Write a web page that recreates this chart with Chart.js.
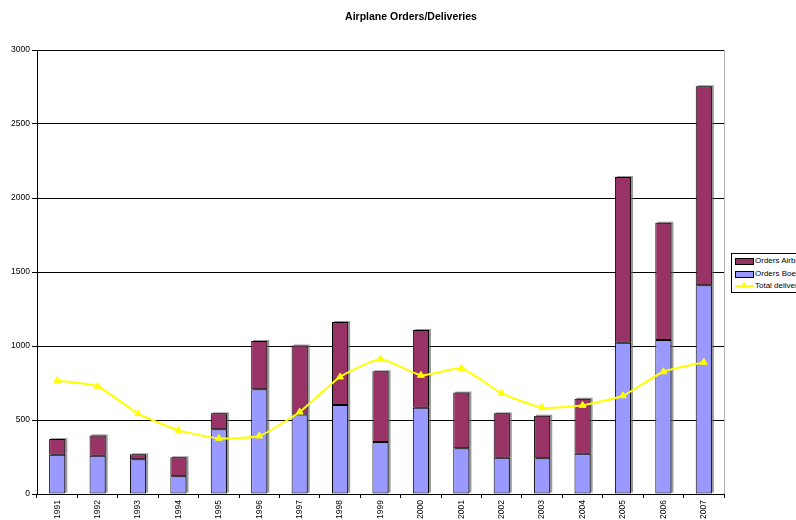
<!DOCTYPE html>
<html>
<head>
<meta charset="utf-8">
<script src="https://cdn.jsdelivr.net/npm/chart.js@4/dist/chart.umd.min.js"></script>
<style>
  html, body { margin: 0; padding: 0; background: #fff; overflow: hidden; width: 796px; height: 520px; }
  #wrap { position: relative; width: 796px; height: 520px; }
  #legend { position: absolute; left: 731px; top: 253px; width: 110px; height: 38px; border: 1px solid #000; background: #fff;
            font-family: "Liberation Sans", Arial, sans-serif; font-size: 8px; color: #000; }
  .row { position: absolute; left: 2px; height: 10px; white-space: nowrap; }
  .sw { position: absolute; left: 1px; top: 2px; width: 17px; height: 5px; border: 1px solid #000; }
  .ln { position: absolute; left: 1px; top: 4px; width: 19px; height: 2px; }
  .tri { position: absolute; left: 7px; top: 0px; width: 0; height: 0; border-left: 3.5px solid transparent; border-right: 3.5px solid transparent; border-bottom: 7px solid #FFFF00; }
  .tx { position: absolute; left: 21px; top: 0px; line-height: 10px; }
</style>
</head>
<body>
<div id="wrap">
  <canvas id="c" width="796" height="520"></canvas>
  <div id="legend"></div>
</div>
<script>
const years = ['1991','1992','1993','1994','1995','1996','1997','1998','1999','2000','2001','2002','2003','2004','2005','2006','2007'];
const ordersBoeing = [266, 259, 234, 120, 437, 707, 538, 601, 351, 583, 309, 245, 241, 272, 1022, 1041, 1410];
const ordersAirbus = [105, 137, 34, 128, 108, 327, 465, 561, 478, 525, 376, 300, 288, 372, 1120, 792, 1345];
const totalDeliveries = [766, 728, 543, 430, 376, 392, 554, 791, 912, 802, 849, 680, 583, 599, 664, 826, 890];
const yTicks = { min: 0, max: 3000, step: 500 };

const titleText = 'Airplane Orders/Deliveries';
const FONT = '"Liberation Sans", Arial, sans-serif';

const extras = {
  id: 'extras',
  beforeDatasetsDraw(chart) {
    // grey drop shadow behind the bars (Excel style), from the bar elements' own geometry
    const ctx = chart.ctx;
    ctx.save();
    ctx.fillStyle = 'rgba(110,110,110,0.7)';
    chart.data.datasets.forEach((ds, i) => {
      if (ds.type === 'line') return;
      chart.getDatasetMeta(i).data.forEach(el => {
        const p = el.getProps(['x', 'y', 'base', 'width'], true);
        const top = Math.min(p.y, p.base), h = Math.abs(p.base - p.y);
        ctx.fillRect(p.x - p.width / 2 + 2, top - 1, p.width, h);
      });
    });
    ctx.restore();
  },
  afterDraw(chart) {
    const ctx = chart.ctx;
    const a = chart.chartArea;
    ctx.save();
    ctx.strokeStyle = '#b0b0b0';
    ctx.lineWidth = 1;
    ctx.beginPath();
    ctx.moveTo(Math.round(a.right) + 0.5, a.top);
    ctx.lineTo(Math.round(a.right) + 0.5, a.bottom);
    ctx.stroke();
    ctx.fillStyle = '#000';
    ctx.font = 'bold 10.5px ' + FONT;
    ctx.textAlign = 'center';
    ctx.textBaseline = 'middle';
    ctx.fillText(titleText, 411, 17);
    ctx.restore();
  }
};

const chart = new Chart(document.getElementById('c'), {
  type: 'bar',
  data: {
    labels: years,
    datasets: [
      {
        type: 'line', label: 'Total deliveries', data: totalDeliveries, stack: 'deliv', order: 0,
        borderColor: '#FFFF00', backgroundColor: '#FFFF00', borderWidth: 2, tension: 0.15,
        pointStyle: 'triangle', pointRadius: 4, pointBackgroundColor: '#FFFF00', pointBorderColor: '#FFFF00', pointBorderWidth: 1
      },
      {
        label: 'Orders Boeing', data: ordersBoeing, stack: 'orders', order: 1,
        backgroundColor: '#9999FF', borderColor: '#000', borderWidth: 1, borderSkipped: false
      },
      {
        label: 'Orders Airbus', data: ordersAirbus, stack: 'orders', order: 1,
        backgroundColor: '#993366', borderColor: '#000', borderWidth: 1, borderSkipped: false
      }
    ]
  },
  options: {
    responsive: false,
    animation: false,
    devicePixelRatio: 1,
    layout: { padding: { top: 50, right: 72, left: 0, bottom: 0 } },
    datasets: { bar: { categoryPercentage: 1, barPercentage: 0.4 } },
    plugins: { legend: { display: false }, title: { display: false }, tooltip: { enabled: false } },
    scales: {
      x: {
        stacked: true,
        offset: true,
        grid: { display: true, drawOnChartArea: false, drawTicks: true, tickLength: 4, color: '#000', offset: true },
        border: { display: true, color: '#000', width: 1 },
        ticks: { color: '#000', font: { family: FONT, size: 8.5 }, minRotation: 90, maxRotation: 90, padding: 2, autoSkip: false },
        afterFit(s) { s.height = 26; }
      },
      y: {
        stacked: true,
        min: yTicks.min, max: yTicks.max,
        grid: { color: '#000', lineWidth: 1, tickLength: 5, drawTicks: true },
        border: { display: true, color: '#000', width: 1 },
        ticks: { stepSize: yTicks.step, color: '#000', font: { family: FONT, size: 8.5 }, padding: 2,
                 callback: (v) => String(v) },
        afterFit(s) { s.width = 37; }
      }
    }
  },
  plugins: [extras]
});

// HTML legend built from the datasets
const legend = document.getElementById('legend');
const orderLeg = [2, 1, 0];
orderLeg.forEach((di, i) => {
  const ds = chart.data.datasets[di];
  const row = document.createElement('div');
  row.className = 'row';
  row.style.top = (2 + i * 12.5) + 'px';
  if (ds.type === 'line') {
    row.innerHTML = '<div class="ln" style="background:' + ds.borderColor + '"></div><div class="tri"></div><div class="tx"></div>';
  } else {
    row.innerHTML = '<div class="sw" style="background:' + ds.backgroundColor + '"></div><div class="tx"></div>';
  }
  row.querySelector('.tx').textContent = ds.label;
  legend.appendChild(row);
});
</script>
</body>
</html>
